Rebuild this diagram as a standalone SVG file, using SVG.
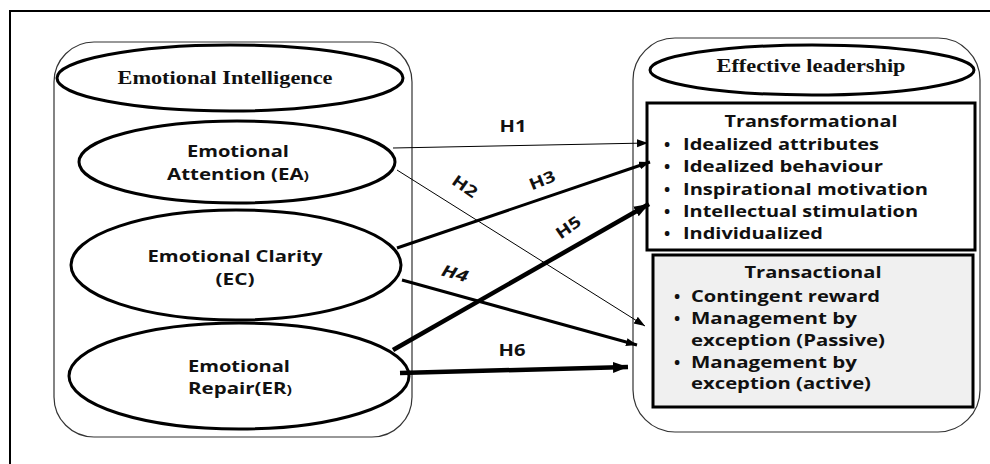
<svg xmlns="http://www.w3.org/2000/svg" width="990" height="464" viewBox="0 0 990 464">
<style>
.frame{fill:none;stroke:#000;stroke-width:2}
.cont{fill:#fff;stroke:#333;stroke-width:1.2}
.ell{fill:#fff;stroke:#000;stroke-width:3}
.title{font-family:"Liberation Serif",serif;font-weight:bold;font-size:18px;fill:#111;text-anchor:middle}
.lbl{font-family:"Open Sans","Liberation Sans",sans-serif;font-weight:bold;font-size:15.5px;fill:#111;text-anchor:middle}
.item{font-family:"Open Sans","Liberation Sans",sans-serif;font-weight:bold;font-size:16.5px;fill:#111}
.hl{font-family:"Open Sans","Liberation Sans",sans-serif;font-weight:bold;font-size:16px;fill:#111;text-anchor:middle}
.c{stroke:#000;fill:none}
</style>
<defs>
<marker id="ahs" markerUnits="userSpaceOnUse" markerWidth="12" markerHeight="10" refX="11" refY="4" orient="auto"><path d="M0,0 L11,4 L0,8 Z" fill="#000"/></marker>
<marker id="ahl" markerUnits="userSpaceOnUse" markerWidth="16" markerHeight="12" refX="15" refY="5.5" orient="auto"><path d="M0,0 L15,5.5 L0,11 Z" fill="#000"/></marker>
</defs>
<path class="frame" d="M10,470 V11 H995"/>

<g id="emotional-intelligence">
<rect class="cont" x="54" y="42" width="358" height="395" rx="40" ry="40"/>
<ellipse class="ell" cx="230" cy="78" rx="173" ry="33"/>
<text class="title" x="225" y="84" textLength="215" lengthAdjust="spacingAndGlyphs">Emotional Intelligence</text>
</g>
<g id="ea">
<ellipse class="ell" cx="237" cy="162" rx="158" ry="41"/>
<text class="lbl" x="238" y="157" textLength="102" lengthAdjust="spacingAndGlyphs">Emotional</text>
<text class="lbl" x="238" y="180" textLength="142" lengthAdjust="spacingAndGlyphs">Attention (EA<tspan font-size="12">)</tspan></text>
</g>
<g id="ec">
<ellipse class="ell" cx="236" cy="265" rx="165" ry="55"/>
<text class="lbl" x="235" y="262" textLength="175" lengthAdjust="spacingAndGlyphs">Emotional Clarity</text>
<text class="lbl" x="235" y="285" textLength="39" lengthAdjust="spacingAndGlyphs">(EC)</text>
</g>
<g id="er">
<ellipse class="ell" cx="239" cy="376" rx="170" ry="53"/>
<text class="lbl" x="239" y="372" textLength="102" lengthAdjust="spacingAndGlyphs">Emotional</text>
<text class="lbl" x="240" y="394" textLength="104" lengthAdjust="spacingAndGlyphs">Repair(ER<tspan font-size="12">)</tspan></text>
</g>

<g id="effective-leadership">
<rect class="cont" x="633" y="38" width="347" height="394" rx="42" ry="42"/>
<ellipse class="ell" cx="812" cy="70" rx="162" ry="25"/>
<text class="title" x="811" y="72" font-size="17.5" textLength="189" lengthAdjust="spacingAndGlyphs">Effective leadership</text>
</g>
<g id="transformational">
<rect x="647" y="103" width="328" height="147" fill="#fff" stroke="#000" stroke-width="3"/>
<text class="lbl" x="811" y="127" font-size="16.5" textLength="173" lengthAdjust="spacingAndGlyphs">Transformational</text>
<g class="item">
<text x="664" y="150">•</text><text x="683" y="150" textLength="196" lengthAdjust="spacingAndGlyphs">Idealized attributes</text>
<text x="664" y="172">•</text><text x="683" y="172" textLength="200" lengthAdjust="spacingAndGlyphs">Idealized behaviour</text>
<text x="664" y="195">•</text><text x="683" y="195" textLength="245" lengthAdjust="spacingAndGlyphs">Inspirational motivation</text>
<text x="664" y="217">•</text><text x="683" y="217" textLength="235" lengthAdjust="spacingAndGlyphs">Intellectual stimulation</text>
<text x="664" y="239">•</text><text x="683" y="239" textLength="140" lengthAdjust="spacingAndGlyphs">Individualized</text>
</g>
</g>
<g id="transactional">
<rect x="653" y="255" width="320" height="152" fill="#f0f0f0" stroke="#000" stroke-width="3"/>
<text class="lbl" x="813" y="278" font-size="16.5" textLength="137" lengthAdjust="spacingAndGlyphs">Transactional</text>
<g class="item">
<text x="674" y="302">•</text><text x="691" y="302" textLength="189" lengthAdjust="spacingAndGlyphs">Contingent reward</text>
<text x="674" y="324">•</text><text x="691" y="324" textLength="166" lengthAdjust="spacingAndGlyphs">Management by</text>
<text x="691" y="346" textLength="194" lengthAdjust="spacingAndGlyphs">exception (Passive)</text>
<text x="674" y="368">•</text><text x="691" y="368" textLength="166" lengthAdjust="spacingAndGlyphs">Management by</text>
<text x="691" y="389" textLength="180" lengthAdjust="spacingAndGlyphs">exception (active)</text>
</g>
</g>

<g id="connectors">
<line class="c" x1="393" y1="148" x2="648" y2="143" stroke-width="1" marker-end="url(#ahs)"/>
<line class="c" x1="397" y1="170" x2="645" y2="326" stroke-width="1" marker-end="url(#ahs)"/>
<line class="c" x1="397" y1="248" x2="650" y2="162" stroke-width="3" marker-end="url(#ahs)"/>
<line class="c" x1="402" y1="280" x2="637" y2="345" stroke-width="3" marker-end="url(#ahs)"/>
<line class="c" x1="393" y1="350" x2="649" y2="204" stroke-width="4.5" marker-end="url(#ahl)"/>
<line class="c" x1="400" y1="373" x2="628" y2="367" stroke-width="4.5" marker-end="url(#ahl)"/>
<text class="hl" x="513" y="132" textLength="27" lengthAdjust="spacingAndGlyphs">H1</text>
<text class="hl" transform="translate(465,186) rotate(35)" y="6" textLength="27" lengthAdjust="spacingAndGlyphs">H2</text>
<text class="hl" transform="translate(542,180) rotate(-22)" y="6" textLength="27" lengthAdjust="spacingAndGlyphs">H3</text>
<text class="hl" font-style="italic" transform="translate(455,273) rotate(15)" y="6" textLength="27" lengthAdjust="spacingAndGlyphs">H4</text>
<text class="hl" transform="translate(568,227) rotate(-35)" y="6" textLength="27" lengthAdjust="spacingAndGlyphs">H5</text>
<text class="hl" x="512" y="356" textLength="27" lengthAdjust="spacingAndGlyphs">H6</text>
</g>
</svg>
